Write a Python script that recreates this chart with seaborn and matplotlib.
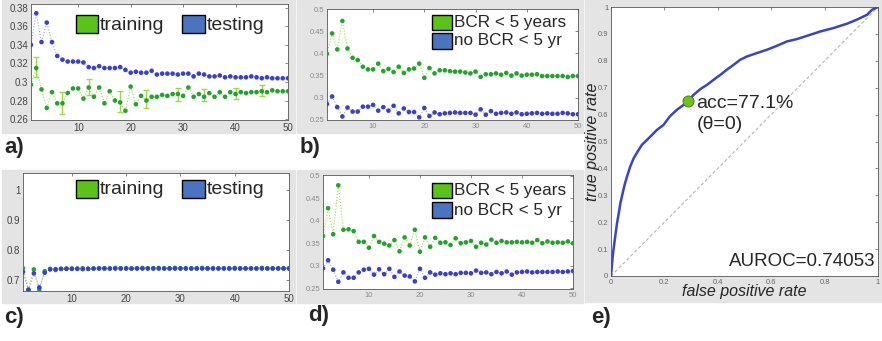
import numpy as np
import pandas as pd
import seaborn as sns
import matplotlib.pyplot as plt
from matplotlib.patches import Rectangle
from matplotlib.ticker import FuncFormatter

sns.set_style("white")
plt.rcParams['font.family'] = ['Liberation Sans', 'DejaVu Sans']

epochs = np.arange(1, 51)

# panel a) error rates
a_test = [0.340, 0.374, 0.343, 0.364, 0.343, 0.328, 0.324, 0.322, 0.322, 0.322,
          0.321, 0.316, 0.315, 0.317, 0.315, 0.315, 0.315, 0.316, 0.313, 0.310,
          0.311, 0.310, 0.310, 0.312, 0.308, 0.309, 0.309, 0.309, 0.308, 0.309,
          0.309, 0.306, 0.309, 0.308, 0.306, 0.306, 0.307, 0.305, 0.306, 0.305,
          0.305, 0.305, 0.306, 0.305, 0.304, 0.305, 0.304, 0.304, 0.304, 0.304]
a_train = [0.297, 0.315, 0.292, 0.272, 0.289, 0.277, 0.277, 0.288, 0.293, 0.293,
           0.282, 0.294, 0.284, 0.294, 0.277, 0.290, 0.280, 0.278, 0.269, 0.295,
           0.276, 0.285, 0.280, 0.284, 0.284, 0.286, 0.285, 0.287, 0.287, 0.285,
           0.294, 0.284, 0.287, 0.284, 0.288, 0.284, 0.289, 0.284, 0.289, 0.287,
           0.289, 0.288, 0.289, 0.289, 0.290, 0.289, 0.291, 0.290, 0.290, 0.290]
a_err_x = [2, 7, 12, 18, 23, 29, 34, 40, 45]
a_err_lo = [0.305, 0.265, 0.286, 0.268, 0.272, 0.279, 0.279, 0.282, 0.285]
a_err_hi = [0.327, 0.289, 0.303, 0.290, 0.291, 0.294, 0.292, 0.293, 0.297]

# panel b)
b_bcr = [0.399, 0.445, 0.409, 0.473, 0.411, 0.390, 0.385, 0.370, 0.364, 0.364,
         0.377, 0.360, 0.365, 0.358, 0.370, 0.356, 0.364, 0.366, 0.377, 0.345,
         0.367, 0.355, 0.362, 0.362, 0.360, 0.359, 0.359, 0.357, 0.355, 0.359,
         0.347, 0.353, 0.353, 0.355, 0.352, 0.356, 0.350, 0.355, 0.350, 0.352,
         0.352, 0.353, 0.349, 0.349, 0.349, 0.349, 0.349, 0.347, 0.349, 0.349]
b_nobcr = [0.286, 0.303, 0.279, 0.258, 0.278, 0.269, 0.269, 0.280, 0.280, 0.284,
           0.271, 0.279, 0.271, 0.282, 0.265, 0.276, 0.268, 0.268, 0.256, 0.277,
           0.259, 0.267, 0.263, 0.265, 0.266, 0.267, 0.266, 0.266, 0.266, 0.262,
           0.274, 0.262, 0.270, 0.264, 0.266, 0.267, 0.264, 0.267, 0.263, 0.264,
           0.265, 0.266, 0.264, 0.265, 0.264, 0.264, 0.266, 0.265, 0.263, 0.263]

# panel c) accuracy
c_train = [0.739, 0.665, 0.735, 0.668, 0.729, 0.737, 0.733, 0.737, 0.738, 0.738,
           0.738, 0.739, 0.737, 0.738, 0.739, 0.739, 0.738, 0.740, 0.739, 0.739,
           0.738, 0.739, 0.740, 0.739, 0.739, 0.740, 0.739, 0.739, 0.740, 0.739,
           0.739, 0.739, 0.739, 0.740, 0.739, 0.739, 0.739, 0.739, 0.739, 0.740,
           0.739, 0.739, 0.739, 0.739, 0.740, 0.739, 0.739, 0.739, 0.739, 0.739]
c_test = [0.727, 0.668, 0.722, 0.675, 0.724, 0.735, 0.736, 0.737, 0.737, 0.737,
          0.737, 0.736, 0.737, 0.738, 0.738, 0.738, 0.738, 0.738, 0.738, 0.738,
          0.738, 0.738, 0.738, 0.738, 0.738, 0.738, 0.738, 0.738, 0.738, 0.738,
          0.738, 0.738, 0.738, 0.738, 0.738, 0.738, 0.738, 0.738, 0.738, 0.738,
          0.738, 0.738, 0.738, 0.738, 0.738, 0.738, 0.738, 0.738, 0.738, 0.738]

# panel d)
d_bcr = [0.366, 0.428, 0.370, 0.479, 0.380, 0.381, 0.377, 0.353, 0.353, 0.340,
         0.366, 0.353, 0.349, 0.345, 0.357, 0.332, 0.363, 0.345, 0.380, 0.331,
         0.363, 0.342, 0.362, 0.351, 0.352, 0.346, 0.361, 0.350, 0.352, 0.355,
         0.342, 0.351, 0.347, 0.358, 0.351, 0.355, 0.352, 0.352, 0.353, 0.352,
         0.353, 0.351, 0.357, 0.350, 0.354, 0.351, 0.352, 0.351, 0.354, 0.350]
d_nobcr = [0.294, 0.312, 0.291, 0.264, 0.285, 0.273, 0.273, 0.285, 0.291, 0.293,
           0.280, 0.292, 0.281, 0.293, 0.275, 0.287, 0.278, 0.276, 0.265, 0.293,
           0.273, 0.285, 0.280, 0.283, 0.281, 0.283, 0.281, 0.284, 0.284, 0.283,
           0.289, 0.284, 0.285, 0.281, 0.286, 0.283, 0.287, 0.280, 0.285, 0.286,
           0.287, 0.285, 0.286, 0.286, 0.286, 0.286, 0.287, 0.286, 0.287, 0.288]

# panel e) ROC
fpr = [0.0, 0.004, 0.0075, 0.0125, 0.0175, 0.0225, 0.029, 0.035, 0.042, 0.051,
       0.060, 0.072, 0.085, 0.100, 0.116, 0.135, 0.154, 0.172, 0.197, 0.220,
       0.247, 0.272, 0.288, 0.310, 0.335, 0.360, 0.385, 0.410, 0.434, 0.459,
       0.484, 0.509, 0.547, 0.584, 0.622, 0.659, 0.697, 0.747, 0.784, 0.834,
       0.884, 0.921, 0.959, 0.978, 1.0]
tpr = [0.0, 0.047, 0.084, 0.122, 0.159, 0.196, 0.233, 0.270, 0.301, 0.339,
       0.370, 0.407, 0.438, 0.463, 0.488, 0.506, 0.525, 0.543, 0.562, 0.593,
       0.618, 0.636, 0.650, 0.674, 0.695, 0.711, 0.730, 0.748, 0.767, 0.785,
       0.804, 0.816, 0.829, 0.841, 0.856, 0.872, 0.881, 0.897, 0.909, 0.922,
       0.938, 0.953, 0.971, 0.990, 1.0]
op_fpr, op_tpr = 0.288, 0.650

GREEN = '#23a22e'
BLUE = '#3a3fcc'
LGREEN = '#9ed84a'
LBLUE = '#8fa6e8'
GREY_BG = '#e4e4e4'
W, H = 882, 341

fig = plt.figure(figsize=(W / 100, H / 100), dpi=100)
fig.patch.set_facecolor('white')


def px_box(l, t, r, b):
    return [l / W, 1 - b / H, (r - l) / W, (b - t) / H]


def grey(l, t, r, b):
    fig.add_artist(Rectangle((l / W, 1 - b / H), (r - l) / W, (b - t) / H,
                             transform=fig.transFigure, color=GREY_BG, zorder=0))


def swatch(l, t, r, b, color):
    fig.add_artist(Rectangle((l / W, 1 - b / H), (r - l) / W, (b - t) / H,
                             transform=fig.transFigure, facecolor=color,
                             edgecolor='black', lw=1.0, zorder=5))


def style(ax, labsize, labcolor):
    ax.set_facecolor('white')
    for s in ax.spines.values():
        s.set_color('#555555')
        s.set_linewidth(0.6)
    ax.tick_params(direction='in', length=2.5, width=0.5, top=True, right=True,
                   labelsize=labsize, labelcolor=labcolor, color='#555555', pad=2)
    ax.yaxis.set_major_formatter(FuncFormatter(lambda v, p: f'{v:g}'))
    ax.xaxis.set_major_formatter(FuncFormatter(lambda v, p: f'{v:g}'))


def series(ax, y, dot, line):
    df = pd.DataFrame({'epoch': epochs, 'val': y})
    sns.lineplot(data=df, x='epoch', y='val', ax=ax, color=line, lw=0.8,
                 linestyle=':', zorder=2)
    sns.scatterplot(data=df, x='epoch', y='val', ax=ax, color=dot, s=11,
                    edgecolor='none', zorder=3)
    ax.set_xlabel('')
    ax.set_ylabel('')


grey(2, 0, 295, 133)
grey(297, 0, 583, 133)
grey(2, 170, 295, 303)
grey(297, 170, 583, 303)
grey(585, 0, 882, 302)

# a)
ax = fig.add_axes(px_box(31, 4, 288, 120))
style(ax, 7, '#444444')
ax.errorbar(a_err_x, [(lo + hi) / 2 for lo, hi in zip(a_err_lo, a_err_hi)],
            yerr=[(hi - lo) / 2 for lo, hi in zip(a_err_lo, a_err_hi)],
            fmt='none', ecolor=LGREEN, elinewidth=1.0, capsize=2.5, zorder=2)
series(ax, a_test, BLUE, LBLUE)
series(ax, a_train, GREEN, LGREEN)
ax.set_xlim(1, 50)
ax.set_ylim(0.259, 0.384)
ax.set_xticks([10, 20, 30, 40, 50])
ax.set_yticks(np.arange(0.26, 0.381, 0.02))

# b)
ax = fig.add_axes(px_box(327, 9, 578, 120))
style(ax, 5.5, '#8a8a8a')
series(ax, b_bcr, GREEN, LGREEN)
series(ax, b_nobcr, BLUE, LBLUE)
ax.set_xlim(1, 50)
ax.set_ylim(0.25, 0.5)
ax.set_xticks([10, 20, 30, 40, 50])
ax.set_yticks(np.arange(0.25, 0.501, 0.05))

# c)
ax = fig.add_axes(px_box(23, 173, 289, 291))
style(ax, 7, '#444444')
series(ax, c_train, GREEN, LGREEN)
series(ax, c_test, BLUE, LBLUE)
ax.set_xlim(1, 50)
ax.set_ylim(0.663, 1.057)
ax.set_xticks([10, 20, 30, 40, 50])
ax.set_yticks([0.7, 0.8, 0.9, 1.0])

# d)
ax = fig.add_axes(px_box(323, 175, 573, 289))
style(ax, 5.5, '#8a8a8a')
series(ax, d_bcr, GREEN, LGREEN)
series(ax, d_nobcr, BLUE, LBLUE)
ax.set_xlim(1, 50)
ax.set_ylim(0.248, 0.502)
ax.set_xticks([10, 20, 30, 40, 50])
ax.set_yticks(np.arange(0.25, 0.501, 0.05))

# e) ROC
ax = fig.add_axes(px_box(611, 7, 878, 276))
style(ax, 5.5, '#666666')
ax.plot([0, 1], [0, 1], linestyle=(0, (3, 2)), color='#b5b5b5', lw=0.8, zorder=1)
sns.lineplot(x=fpr, y=tpr, ax=ax, color='#3a45c4', lw=1.8, sort=False,
             estimator=None, zorder=2)
ax.plot([op_fpr], [op_tpr], 'o', ms=8, mfc='#6cc21a', mec='#3d7a10', mew=0.6, zorder=4)
ax.set_xlim(0, 1)
ax.set_ylim(0, 1)
ax.set_xticks(np.arange(0, 1.01, 0.2))
ax.set_yticks(np.arange(0, 1.01, 0.1))
ax.set_xlabel('false positive rate', style='italic', fontsize=11.5, labelpad=-1)
ax.set_ylabel('true positive rate', style='italic', fontsize=11.5, labelpad=-2)
ax.text(0.32, 0.64, 'acc=77.1%', fontsize=14, va='center', ha='left')
ax.text(0.32, 0.565, '(θ=0)', fontsize=14, va='center', ha='left')
ax.text(0.99, 0.055, 'AUROC=0.74053', fontsize=13.5, va='center', ha='right')

# legends (drawn as figure artists)
for top in (0, 165):
    swatch(76, 15 + top, 98, 33 + top, '#5ac318')
    fig.text(100 / W, 1 - (25 + top) / H, 'training', fontsize=14, va='center')
    swatch(182, 15 + top, 205, 33 + top, '#4a74c0')
    fig.text(207 / W, 1 - (25 + top) / H, 'testing', fontsize=14, va='center')

for t1, t2 in ((15, 33), (183, 202)):
    swatch(432, t1, 452, t1 + 15, '#5ac318')
    fig.text(454 / W, 1 - (t1 + 7.5) / H, 'BCR < 5 years', fontsize=12.3, va='center')
    swatch(432, t2, 452, t2 + 16, '#4a74c0')
    fig.text(454 / W, 1 - (t2 + 8) / H, 'no BCR < 5 yr', fontsize=12.3, va='center')

# panel labels
for lab, x, y in (('a)', 4, 147), ('b)', 300, 147), ('c)', 4, 318),
                  ('d)', 308, 316), ('e)', 591, 318)):
    fig.text(x / W, 1 - y / H, lab, fontsize=16, fontweight='bold',
             va='center', ha='left')

fig.savefig('out.png', dpi=100)
